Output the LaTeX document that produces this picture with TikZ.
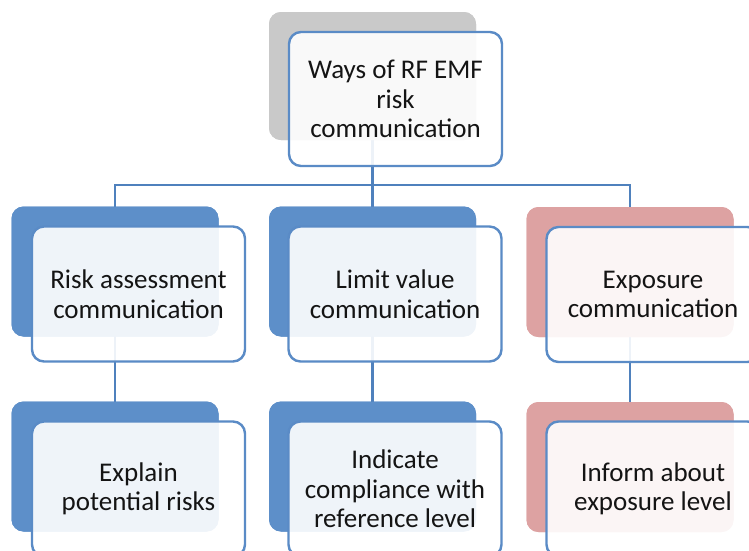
\documentclass[tikz,border=0pt]{standalone}
\usepackage{fontspec}
\setmainfont{Carlito}
\begin{document}
\begin{tikzpicture}[x=1pt,y=-1pt,
  conn/.style={draw=connblue,line width=2.4pt},
  backbox/.style={rectangle,rounded corners=12pt,minimum width=207pt,minimum height=130pt,inner sep=0pt},
  bluebk/.style={backbox,fill=darkblue},
  pinkbk/.style={backbox,fill=darkpink},
  graybk/.style={backbox,fill=lightgray,minimum height=128pt},
  frontbox/.style={rectangle,rounded corners=12pt,minimum width=213pt,minimum height=135pt,
    inner sep=0pt,draw=edgeblue,line width=2.4pt,fill=white,fill opacity=0.9,text opacity=1,
    align=center,text=textdark,font=\fontsize{27}{29.5}\selectfont}]
\definecolor{connblue}{HTML}{4F81BD}
\definecolor{edgeblue}{HTML}{5A8BC6}
\definecolor{darkblue}{HTML}{5D8FC9}
\definecolor{darkpink}{HTML}{DDA2A2}
\definecolor{lightgray}{HTML}{C9C9C9}
\definecolor{textdark}{HTML}{141414}
\useasboundingbox (0,0) rectangle (749,550);
\clip (0,0) rectangle (749,550);
\fill[white] (0,0) rectangle (749,550);

% back panels, placed first so the connectors can be drawn between them
\node[graybk] (topbk) at (372.5,76) {};
\coordinate (hub) at (372.5,185);
\node[bluebk] (a1bk) at (115,271.5) {};
\node[bluebk] (b1bk) at (372.5,271.5) {};
\node[pinkbk] (c1bk) at (630,272) {};
\node[bluebk] (a2bk) at (115,466.5) {};
\node[bluebk] (b2bk) at (372.5,466.5) {};
\node[pinkbk] (c2bk) at (630,467) {};

\draw[conn] (topbk.center) -- (hub);
\draw[conn] (hub) -| (a1bk.center);
\draw[conn] (hub) -| (c1bk.center);
\draw[conn] (hub) -- (b1bk.center);
\draw[conn] (a1bk.center) -- (a2bk.center);
\draw[conn] (b1bk.center) -- (b2bk.center);
\draw[conn] (c1bk.center) -- (c2bk.center);

% repaint the panels over the connector ends
\node[graybk] at (topbk) {};
\node[bluebk] at (a1bk) {};
\node[bluebk] at (b1bk) {};
\node[pinkbk] at (c1bk) {};
\node[bluebk] at (a2bk) {};
\node[bluebk] at (b2bk) {};
\node[pinkbk] at (c2bk) {};

% text cards
\node[frontbox,minimum height=134pt] (top) at (395.5,99) {Ways of RF EMF\\risk\\communication};
\node[frontbox] (a1) at (138.5,294) {Risk assessment\\communication};
\node[frontbox] (b1) at (395,294) {Limit value\\communication};
\node[frontbox] (c1) at (653,294.5) {Exposure\\communication};
\node[frontbox] (a2) at (138.5,489) {Explain\\potential risks};
\node[frontbox] (b2) at (395,489) {Indicate\\compliance with\\reference level};
\node[frontbox] (c2) at (653,489) {Inform about\\exposure level};
\end{tikzpicture}
\end{document}
